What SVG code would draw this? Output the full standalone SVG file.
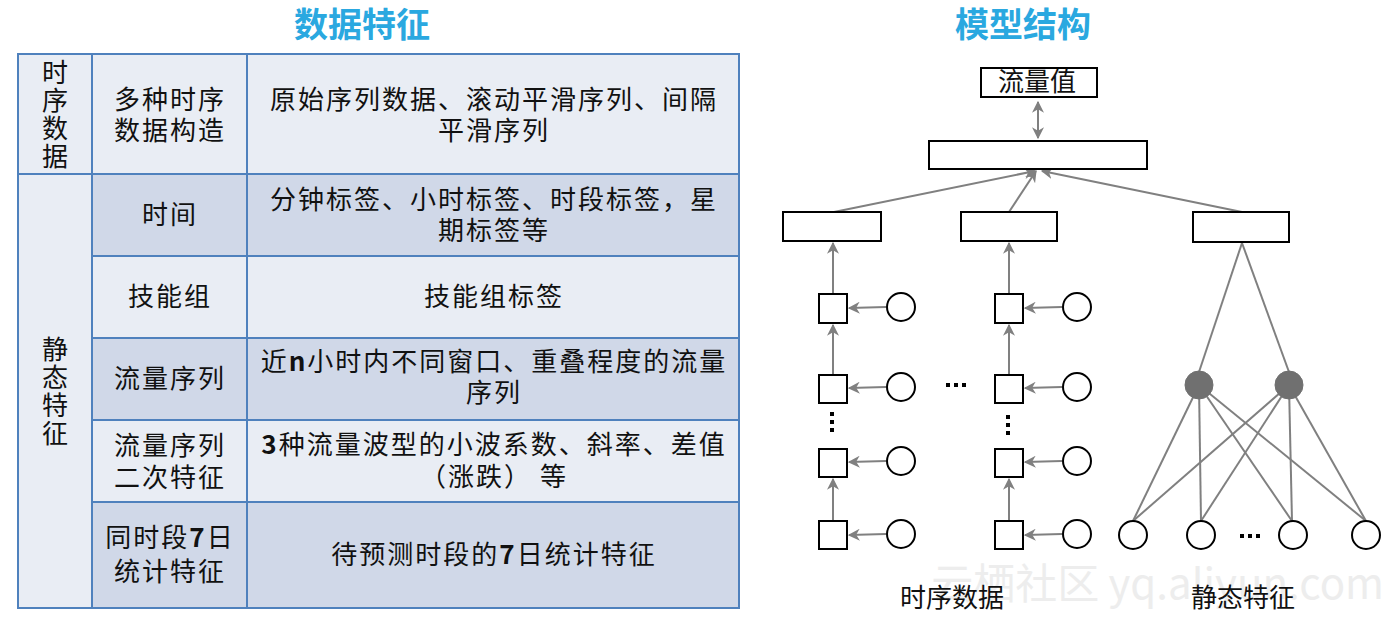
<svg xmlns="http://www.w3.org/2000/svg" width="1394" height="622" viewBox="0 0 1394 622">
<style>
.t{font-family:"Noto Sans CJK SC","Liberation Sans",sans-serif;fill:#111;}
.cell{font-size:26px;letter-spacing:2px;text-anchor:middle;}
.vert{font-size:26px;letter-spacing:2px;text-anchor:middle;writing-mode:vertical-rl;}
.title{font-size:34px;font-weight:bold;fill:#2aa8e0;text-anchor:middle;}
.lt{fill:#e9edf4;stroke:#4f81bd;stroke-width:2;}
.dk{fill:#d0d8e8;stroke:#4f81bd;stroke-width:2;}
.box{fill:#fff;stroke:#000;stroke-width:2;}
.c{fill:#fff;stroke:#000;stroke-width:2;}
.fc{fill:#707070;stroke:#707070;stroke-width:1;}
.ln{stroke:#808080;stroke-width:2;fill:none;}
.ar{stroke:#808080;stroke-width:2;fill:none;marker-end:url(#ah);}
.lbl{font-size:26px;text-anchor:middle;}
.dot{fill:#000;}
.wm{font-family:"Noto Sans CJK SC","Liberation Sans",sans-serif;font-size:42px;fill:#ededed;text-anchor:end;}
</style>
<defs>
<marker id="ah" viewBox="0 0 10 10" refX="9" refY="5" markerWidth="12" markerHeight="12" markerUnits="userSpaceOnUse" orient="auto-start-reverse">
<path d="M0,0 L10,5 L0,10 L3,5 z" fill="#808080"/>
</marker>
</defs>
<rect width="1394" height="622" fill="#fff"/>
<text class="wm" x="1384" y="599">云栖社区 yq.aliyun.com</text>

<text class="t title" x="362" y="37">数据特征</text>
<text class="t title" x="1023" y="37">模型结构</text>

<g id="table">
<rect class="lt" x="18" y="54" width="74" height="120"/>
<rect class="lt" x="92" y="54" width="155" height="120"/>
<rect class="lt" x="247" y="54" width="492" height="120"/>
<rect class="lt" x="18" y="174" width="74" height="434"/>
<rect class="dk" x="92" y="174" width="155" height="82"/>
<rect class="dk" x="247" y="174" width="492" height="82"/>
<rect class="lt" x="92" y="256" width="155" height="82"/>
<rect class="lt" x="247" y="256" width="492" height="82"/>
<rect class="dk" x="92" y="338" width="155" height="82"/>
<rect class="dk" x="247" y="338" width="492" height="82"/>
<rect class="lt" x="92" y="420" width="155" height="82"/>
<rect class="lt" x="247" y="420" width="492" height="82"/>
<rect class="dk" x="92" y="502" width="155" height="106"/>
<rect class="dk" x="247" y="502" width="492" height="106"/>

<text class="t vert" x="55" y="115">时序数据</text>
<text class="t vert" x="55" y="392">静态特征</text>
<g class="t cell">
<text x="170" y="109">多种时序<tspan x="170" dy="31">数据构造</tspan></text>
<text x="494" y="109">原始序列数据、滚动平滑序列、间隔<tspan x="494" dy="31">平滑序列</tspan></text>
<text x="170" y="224">时间</text>
<text x="494" y="209">分钟标签、小时标签、时段标签，星<tspan x="494" dy="31">期标签等</tspan></text>
<text x="170" y="306">技能组</text>
<text x="494" y="306">技能组标签</text>
<text x="170" y="388">流量序列</text>
<text x="494" y="371">近<tspan font-weight="bold">n</tspan>小时内不同窗口、重叠程度的流量<tspan x="494" dy="31">序列</tspan></text>
<text x="170" y="455">流量序列<tspan x="170" dy="32">二次特征</tspan></text>
<text x="494" y="454"><tspan font-weight="bold">3</tspan>种流量波型的小波系数、斜率、差值<tspan x="494" dy="32">（涨跌） 等</tspan></text>
<text x="170" y="547">同时段<tspan font-weight="bold">7</tspan>日<tspan x="170" dy="34">统计特征</tspan></text>
<text x="494" y="564">待预测时段的<tspan font-weight="bold">7</tspan>日统计特征</text>
</g>
</g>

<g id="connectors">
<line class="ar" x1="1038" y1="102" x2="1038" y2="138" style="marker-start:url(#ah)"/>
<line class="ar" x1="834" y1="212" x2="1035" y2="171"/>
<line class="ar" x1="1009" y1="212" x2="1036" y2="171"/>
<line class="ar" x1="1242" y1="212" x2="1042" y2="171"/>
<line class="ar" x1="833" y1="294" x2="833" y2="243"/>
<line class="ar" x1="833" y1="375" x2="833" y2="325"/>
<line class="ar" x1="833" y1="521" x2="833" y2="479"/>
<line class="ar" x1="1009" y1="294" x2="1009" y2="243"/>
<line class="ar" x1="1009" y1="375" x2="1009" y2="325"/>
<line class="ar" x1="1009" y1="521" x2="1009" y2="479"/>
<line class="ar" x1="886" y1="307" x2="849" y2="308"/>
<line class="ar" x1="886" y1="387" x2="849" y2="388"/>
<line class="ar" x1="886" y1="461" x2="849" y2="462"/>
<line class="ar" x1="886" y1="534" x2="849" y2="535"/>
<line class="ar" x1="1062" y1="307" x2="1025" y2="308"/>
<line class="ar" x1="1062" y1="387" x2="1025" y2="388"/>
<line class="ar" x1="1062" y1="461" x2="1025" y2="462"/>
<line class="ar" x1="1062" y1="534" x2="1025" y2="535"/>
<line class="ln" x1="1242" y1="243" x2="1199" y2="372"/>
<line class="ln" x1="1242" y1="243" x2="1289" y2="372"/>
<line class="ln" x1="1199" y1="385" x2="1133" y2="521"/>
<line class="ln" x1="1199" y1="385" x2="1201" y2="521"/>
<line class="ln" x1="1199" y1="385" x2="1292" y2="521"/>
<line class="ln" x1="1199" y1="385" x2="1366" y2="521"/>
<line class="ln" x1="1289" y1="385" x2="1133" y2="521"/>
<line class="ln" x1="1289" y1="385" x2="1201" y2="521"/>
<line class="ln" x1="1289" y1="385" x2="1292" y2="521"/>
<line class="ln" x1="1289" y1="385" x2="1366" y2="521"/>
</g>

<g id="n-flow"><rect class="box" x="981" y="68" width="116" height="29"/><text class="t" x="1037" y="91" font-size="26" text-anchor="middle">流量值</text></g>
<g id="n-top"><rect class="box" x="929" y="141" width="218" height="28"/></g>
<g id="n-b1"><rect class="box" x="783" y="212" width="98" height="29"/></g>
<g id="n-b2"><rect class="box" x="961" y="212" width="96" height="29"/></g>
<g id="n-b3"><rect class="box" x="1193" y="212" width="96" height="30"/></g>

<g id="seq1">
<rect class="box" x="819" y="294" width="28" height="29"/>
<rect class="box" x="819" y="375" width="28" height="28"/>
<rect class="box" x="819" y="449" width="28" height="28"/>
<rect class="box" x="819" y="521" width="28" height="28"/>
<circle class="c" cx="901" cy="307" r="14"/>
<circle class="c" cx="901" cy="387" r="14"/>
<circle class="c" cx="901" cy="461" r="14"/>
<circle class="c" cx="901" cy="534" r="14"/>
<rect class="dot" x="830" y="412" width="4" height="4"/><rect class="dot" x="830" y="420" width="4" height="4"/><rect class="dot" x="830" y="428" width="4" height="4"/>
</g>
<g id="seq2">
<rect class="box" x="995" y="294" width="28" height="29"/>
<rect class="box" x="995" y="375" width="28" height="28"/>
<rect class="box" x="995" y="449" width="28" height="28"/>
<rect class="box" x="995" y="521" width="28" height="28"/>
<circle class="c" cx="1077" cy="307" r="14"/>
<circle class="c" cx="1077" cy="387" r="14"/>
<circle class="c" cx="1077" cy="461" r="14"/>
<circle class="c" cx="1077" cy="534" r="14"/>
<rect class="dot" x="1006" y="415" width="4" height="4"/><rect class="dot" x="1006" y="423" width="4" height="4"/><rect class="dot" x="1006" y="431" width="4" height="4"/>
</g>
<g id="hdots">
<rect class="dot" x="946" y="383" width="4" height="4"/><rect class="dot" x="954" y="383" width="4" height="4"/><rect class="dot" x="962" y="383" width="4" height="4"/>
<rect class="dot" x="1240" y="534" width="4" height="4"/><rect class="dot" x="1248" y="534" width="4" height="4"/><rect class="dot" x="1256" y="534" width="4" height="4"/>
</g>
<g id="static">
<circle class="fc" cx="1199" cy="385" r="14"/>
<circle class="fc" cx="1289" cy="385" r="14"/>
<circle class="c" cx="1133" cy="535" r="14"/>
<circle class="c" cx="1201" cy="535" r="14"/>
<circle class="c" cx="1293" cy="535" r="14"/>
<circle class="c" cx="1366" cy="535" r="14"/>
</g>
<text class="t lbl" x="952" y="607">时序数据</text>
<text class="t lbl" x="1243" y="607">静态特征</text>
</svg>
